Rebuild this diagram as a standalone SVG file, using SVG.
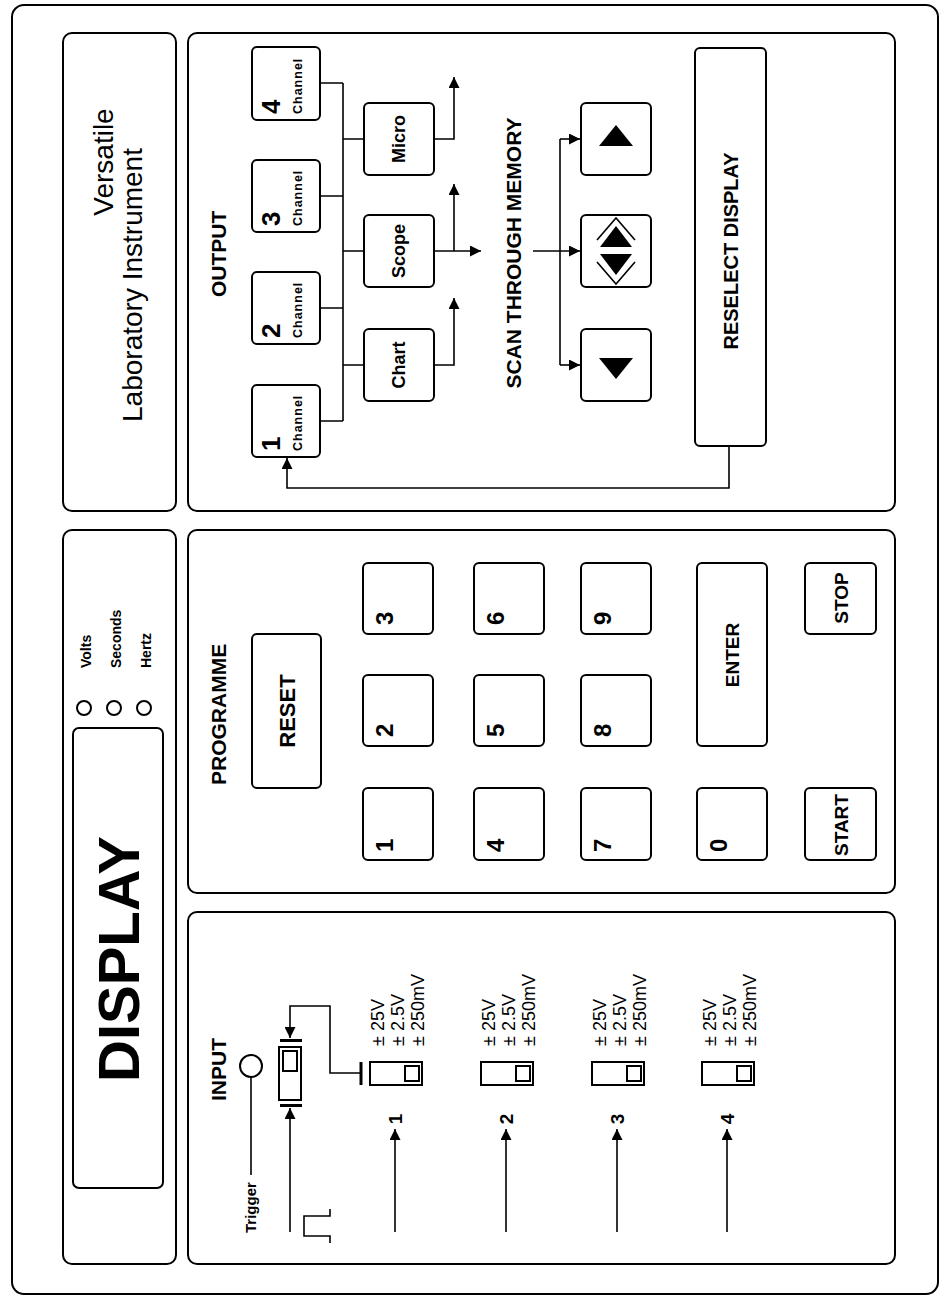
<svg xmlns="http://www.w3.org/2000/svg" width="944" height="1297" viewBox="0 0 944 1297">
<defs>
<style>
.p{fill:none;stroke:#000;stroke-width:2}
.k{fill:#fff;stroke:#000;stroke-width:2}
.c{fill:none;stroke:#000;stroke-width:1.6}
.f{fill:#000;stroke:none}
.b{font-family:"Liberation Sans",Arial,Helvetica,sans-serif;font-weight:bold;fill:#000}
.r{font-family:"Liberation Sans",Arial,Helvetica,sans-serif;fill:#000}
.h{font-size:21px}
.m{text-anchor:middle}
.ch{font-size:12.5px;letter-spacing:1px}
</style>
<marker id="ah" viewBox="0 0 10 10" refX="10" refY="5" markerWidth="11" markerHeight="11" markerUnits="userSpaceOnUse" orient="auto"><path d="M0,0 L10,5 L0,10 z" fill="#000"/></marker>
</defs>
<rect width="944" height="1297" fill="#fff"/>
<rect id="frame" x="12" y="5" width="926" height="1289" rx="12" class="p"/>

<g id="title">
<rect x="63" y="33" width="113" height="478" rx="9" class="p"/>
<text class="r m" font-size="28" x="113" y="162" transform="rotate(-90 113 162)">Versatile</text>
<text class="r m" font-size="28" x="142" y="285" transform="rotate(-90 142 285)">Laboratory Instrument</text>
</g>

<g id="display">
<rect x="63" y="530" width="113" height="734" rx="9" class="p"/>
<rect x="73" y="728" width="90" height="460" rx="6" class="p"/>
<text class="b" font-size="58" x="139" y="1082" transform="rotate(-90 139 1082)">DISPLAY</text>
<circle cx="84" cy="708" r="7" class="p" stroke-width="1.5"/>
<circle cx="114" cy="708" r="7" class="p" stroke-width="1.5"/>
<circle cx="144" cy="708" r="7" class="p" stroke-width="1.5"/>
<text class="b" font-size="14" x="91" y="668" transform="rotate(-90 91 668)">Volts</text>
<text class="b" font-size="14" x="121" y="668" transform="rotate(-90 121 668)">Seconds</text>
<text class="b" font-size="14" x="151" y="668" transform="rotate(-90 151 668)">Hertz</text>
</g>

<g id="output">
<rect x="188" y="33" width="707" height="478" rx="9" class="p"/>
<text class="b h" x="226" y="297" transform="rotate(-90 226 297)">OUTPUT</text>
<text class="b h m" x="521" y="253" transform="rotate(-90 521 253)">SCAN THROUGH MEMORY</text>
</g>

<g id="ch4"><rect x="252" y="47" width="68" height="73" rx="5" class="k"/>
<text class="b" font-size="26" x="280" y="114" transform="rotate(-90 280 114)">4</text>
<text class="b ch" x="302" y="114" transform="rotate(-90 302 114)">Channel</text></g>
<g id="ch3"><rect x="252" y="160" width="68" height="72" rx="5" class="k"/>
<text class="b" font-size="26" x="280" y="226" transform="rotate(-90 280 226)">3</text>
<text class="b ch" x="302" y="226" transform="rotate(-90 302 226)">Channel</text></g>
<g id="ch2"><rect x="252" y="272" width="68" height="72" rx="5" class="k"/>
<text class="b" font-size="26" x="280" y="338" transform="rotate(-90 280 338)">2</text>
<text class="b ch" x="302" y="338" transform="rotate(-90 302 338)">Channel</text></g>
<g id="ch1"><rect x="252" y="385" width="68" height="72" rx="5" class="k"/>
<text class="b" font-size="26" x="280" y="451" transform="rotate(-90 280 451)">1</text>
<text class="b ch" x="302" y="451" transform="rotate(-90 302 451)">Channel</text></g>

<g id="micro"><rect x="364" y="103" width="70" height="72" rx="5" class="k"/>
<text class="b m" font-size="18" x="405" y="139" transform="rotate(-90 405 139)">Micro</text></g>
<g id="scope"><rect x="364" y="215" width="70" height="72" rx="5" class="k"/>
<text class="b m" font-size="18" x="405" y="251" transform="rotate(-90 405 251)">Scope</text></g>
<g id="chart"><rect x="364" y="329" width="70" height="72" rx="5" class="k"/>
<text class="b m" font-size="18" x="405" y="365" transform="rotate(-90 405 365)">Chart</text></g>

<g id="fwd"><rect x="581" y="103" width="70" height="72" rx="5" class="k"/>
<polygon class="f" points="616,125 599,146 633,146"/></g>
<g id="both"><rect x="581" y="215" width="70" height="72" rx="5" class="k"/>
<polyline class="c" points="597,240 616,218 635,240"/>
<polygon class="f" points="616,226 600,247 632,247"/>
<polygon class="f" points="616,275 600,254 632,254"/>
<polyline class="c" points="597,262 616,284 635,262"/></g>
<g id="back"><rect x="581" y="329" width="70" height="72" rx="5" class="k"/>
<polygon class="f" points="616,379 599,358 633,358"/></g>

<g id="reselect"><rect x="695" y="48" width="71" height="398" rx="5" class="k"/>
<text class="b m" font-size="20" x="738" y="251" transform="rotate(-90 738 251)">RESELECT DISPLAY</text></g>

<g id="programme">
<rect x="188" y="530" width="707" height="363" rx="9" class="p"/>
<text class="b h" x="226" y="785" transform="rotate(-90 226 785)">PROGRAMME</text>
</g>
<g id="reset"><rect x="252" y="634" width="69" height="154" rx="5" class="k"/>
<text class="b m" font-size="22" x="295" y="711" transform="rotate(-90 295 711)">RESET</text></g>
<g id="k3"><rect x="363" y="563" width="70" height="71" rx="5" class="k"/><text class="b" font-size="24" x="393" y="625" transform="rotate(-90 393 625)">3</text></g>
<g id="k6"><rect x="474" y="563" width="70" height="71" rx="5" class="k"/><text class="b" font-size="24" x="504" y="625" transform="rotate(-90 504 625)">6</text></g>
<g id="k9"><rect x="581" y="563" width="70" height="71" rx="5" class="k"/><text class="b" font-size="24" x="611" y="625" transform="rotate(-90 611 625)">9</text></g>
<g id="k2"><rect x="363" y="675" width="70" height="71" rx="5" class="k"/><text class="b" font-size="24" x="393" y="737" transform="rotate(-90 393 737)">2</text></g>
<g id="k5"><rect x="474" y="675" width="70" height="71" rx="5" class="k"/><text class="b" font-size="24" x="504" y="737" transform="rotate(-90 504 737)">5</text></g>
<g id="k8"><rect x="581" y="675" width="70" height="71" rx="5" class="k"/><text class="b" font-size="24" x="611" y="737" transform="rotate(-90 611 737)">8</text></g>
<g id="k1"><rect x="363" y="788" width="70" height="72" rx="5" class="k"/><text class="b" font-size="24" x="393" y="852" transform="rotate(-90 393 852)">1</text></g>
<g id="k4"><rect x="474" y="788" width="70" height="72" rx="5" class="k"/><text class="b" font-size="24" x="504" y="852" transform="rotate(-90 504 852)">4</text></g>
<g id="k7"><rect x="581" y="788" width="70" height="72" rx="5" class="k"/><text class="b" font-size="24" x="611" y="852" transform="rotate(-90 611 852)">7</text></g>
<g id="k0"><rect x="697" y="788" width="70" height="72" rx="5" class="k"/><text class="b" font-size="24" x="727" y="852" transform="rotate(-90 727 852)">0</text></g>
<g id="enter"><rect x="697" y="563" width="70" height="183" rx="5" class="k"/>
<text class="b m" font-size="19" x="739" y="655" transform="rotate(-90 739 655)">ENTER</text></g>
<g id="stop"><rect x="805" y="563" width="71" height="71" rx="5" class="k"/>
<text class="b m" font-size="19" x="848" y="598" transform="rotate(-90 848 598)">STOP</text></g>
<g id="start"><rect x="805" y="788" width="71" height="72" rx="5" class="k"/>
<text class="b m" font-size="19" x="848" y="825" transform="rotate(-90 848 825)">START</text></g>

<g id="input">
<rect x="188" y="912" width="707" height="352" rx="9" class="p"/>
<text class="b h" x="226" y="1101" transform="rotate(-90 226 1101)">INPUT</text>
</g>
<g id="trigger">
<circle cx="251" cy="1066" r="11" class="p" stroke-width="1.6"/>
<text class="b" font-size="15" x="256" y="1233" transform="rotate(-90 256 1233)">Trigger</text>
</g>
<g id="trigswitch">
<rect x="279" y="1047" width="22" height="53" class="k" stroke-width="1.6"/>
<rect x="283" y="1051" width="14" height="20" class="p" stroke-width="1.6"/>
<rect x="280" y="1039" width="22" height="3" class="f"/>
<rect x="280" y="1104" width="22" height="3" class="f"/>
</g>
<path id="pulse" class="c" d="M330,1243 V1236 H304 V1216 H330 V1209"/>

<g id="in1">
<rect x="370" y="1062" width="52" height="23" class="k" stroke-width="1.6"/>
<rect x="405" y="1066" width="14" height="15" class="p" stroke-width="1.6"/>
<text class="b m" font-size="19" x="402" y="1119" transform="rotate(-90 402 1119)">1</text>
<text class="r" font-size="18" x="384" y="1046" transform="rotate(-90 384 1046)">± 25V</text>
<text class="r" font-size="18" x="404" y="1046" transform="rotate(-90 404 1046)">± 2.5V</text>
<text class="r" font-size="18" x="424" y="1046" transform="rotate(-90 424 1046)">± 250mV</text>
</g>
<g id="in2">
<rect x="481" y="1062" width="52" height="23" class="k" stroke-width="1.6"/>
<rect x="516" y="1066" width="14" height="15" class="p" stroke-width="1.6"/>
<text class="b m" font-size="19" x="513" y="1119" transform="rotate(-90 513 1119)">2</text>
<text class="r" font-size="18" x="495" y="1046" transform="rotate(-90 495 1046)">± 25V</text>
<text class="r" font-size="18" x="515" y="1046" transform="rotate(-90 515 1046)">± 2.5V</text>
<text class="r" font-size="18" x="535" y="1046" transform="rotate(-90 535 1046)">± 250mV</text>
</g>
<g id="in3">
<rect x="592" y="1062" width="52" height="23" class="k" stroke-width="1.6"/>
<rect x="627" y="1066" width="14" height="15" class="p" stroke-width="1.6"/>
<text class="b m" font-size="19" x="624" y="1119" transform="rotate(-90 624 1119)">3</text>
<text class="r" font-size="18" x="606" y="1046" transform="rotate(-90 606 1046)">± 25V</text>
<text class="r" font-size="18" x="626" y="1046" transform="rotate(-90 626 1046)">± 2.5V</text>
<text class="r" font-size="18" x="646" y="1046" transform="rotate(-90 646 1046)">± 250mV</text>
</g>
<g id="in4">
<rect x="702" y="1062" width="52" height="23" class="k" stroke-width="1.6"/>
<rect x="737" y="1066" width="14" height="15" class="p" stroke-width="1.6"/>
<text class="b m" font-size="19" x="734" y="1119" transform="rotate(-90 734 1119)">4</text>
<text class="r" font-size="18" x="716" y="1046" transform="rotate(-90 716 1046)">± 25V</text>
<text class="r" font-size="18" x="736" y="1046" transform="rotate(-90 736 1046)">± 2.5V</text>
<text class="r" font-size="18" x="756" y="1046" transform="rotate(-90 756 1046)">± 250mV</text>
</g>

<g id="connectors" class="c">
<path d="M343,83 V421 M320,83 H343 M320,196 H343 M320,308 H343 M320,421 H343 M343,139 H364 M343,251 H364 M343,365 H364"/>
<path d="M434,139 H454 V77" marker-end="url(#ah)"/>
<path d="M454,251 V184" marker-end="url(#ah)"/>
<path d="M434,251 H481" marker-end="url(#ah)"/>
<path d="M434,365 H454 V298" marker-end="url(#ah)"/>
<path d="M533,251 H580" marker-end="url(#ah)"/>
<path d="M560,139 V365"/>
<path d="M560,139 H580" marker-end="url(#ah)"/>
<path d="M560,365 H580" marker-end="url(#ah)"/>
<path d="M729,446 V488 H287 V458" marker-end="url(#ah)"/>
<path d="M251,1077 V1175"/>
<path d="M290,1232 V1108" marker-end="url(#ah)"/>
<path d="M361,1073 H330 V1006 H290 V1038" marker-end="url(#ah)"/>
<path d="M361,1062 V1085" stroke-width="3"/>
<path d="M395,1232 V1129" marker-end="url(#ah)"/>
<path d="M506,1232 V1129" marker-end="url(#ah)"/>
<path d="M617,1232 V1129" marker-end="url(#ah)"/>
<path d="M727,1232 V1129" marker-end="url(#ah)"/>
</g>
</svg>
